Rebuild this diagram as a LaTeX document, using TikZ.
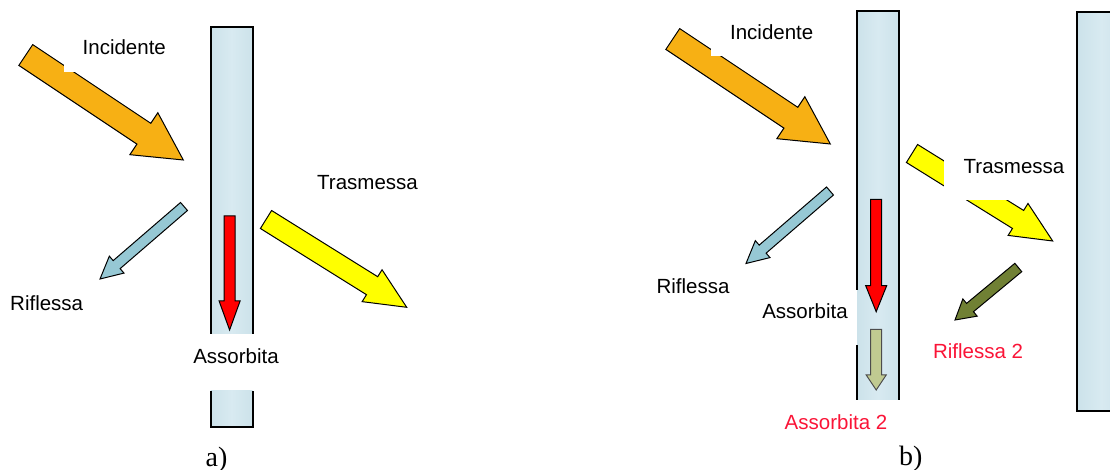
\documentclass[tikz,border=0pt]{standalone}
\usepackage{fontspec}
\setmainfont{Liberation Sans}
\newfontfamily\panelfont{Liberation Serif}
\usetikzlibrary{calc}

\definecolor{slabedge}{RGB}{204,226,234}
\definecolor{slabmid}{RGB}{216,234,241}
\definecolor{incorange}{RGB}{247,176,20}
\definecolor{reflblue}{RGB}{150,200,212}
\definecolor{transyellow}{RGB}{255,255,0}
\definecolor{absred}{RGB}{255,0,0}
\definecolor{olivedark}{RGB}{112,128,52}
\definecolor{olivelight}{RGB}{192,202,145}
\definecolor{labelred}{RGB}{250,20,55}

% block arrow: #1 style, #2 tail, #3 tip, #4 half shaft width, #5 half head width, #6 head length
\newcommand\blockarrow[6]{%
  \coordinate (hb) at ($(#3)!#6!(#2)$);
  \draw[#1] ($(#2)!#4!90:(#3)$) -- ($(hb)!#4!-90:(#2)$) -- ($(hb)!#5!-90:(#2)$)
    -- (#3) -- ($(hb)!#5!90:(#2)$) -- ($(hb)!#4!90:(#2)$) -- ($(#2)!#4!-90:(#3)$) -- cycle;
}

\tikzset{
  lbl/.style={font=\fontsize{10.25pt}{12pt}\selectfont, inner sep=0pt, anchor=base},
  redlbl/.style={lbl, text=labelred},
  panel/.style={font=\panelfont\fontsize{14pt}{16pt}\selectfont, inner sep=0pt, anchor=base},
  slabfill/.style={left color=slabedge, right color=slabedge, middle color=slabmid},
  slabline/.style={line width=1pt, draw=black},
  barrow/.style={draw=black, line width=0.5pt, line join=miter},
  mask/.style={fill=white},
}

\begin{document}
\begin{tikzpicture}[x=0.5pt, y=-0.5pt]
\useasboundingbox (0,0) rectangle (1110,470);
\clip (0,0) rectangle (1110,470);

% ---------------- panel a ----------------
% glass slab, interrupted behind the label
\fill[slabfill] (210.5,27.5) rectangle (252.5,334);
\fill[slabfill] (210.5,391) rectangle (252.5,427);
\draw[slabline] (210.5,334) -- (210.5,27.5) -- (252.5,27.5) -- (252.5,334);
\draw[slabline] (210.5,391) -- (210.5,427) -- (252.5,427) -- (252.5,391);

\coordinate (incA0) at (25.8,55);    \coordinate (incA1) at (183.3,160);
\coordinate (refA0) at (184,206.5);  \coordinate (refA1) at (100,279);
\coordinate (absA0) at (229.6,216);  \coordinate (absA1) at (229.6,330);
\coordinate (traA0) at (266,219.5);  \coordinate (traA1) at (406.7,307.3);

\blockarrow{barrow, fill=incorange}{incA0}{incA1}{6.25pt}{12.6pt}{23.7pt}
\blockarrow{barrow, fill=reflblue}{refA0}{refA1}{2.65pt}{5.6pt}{11pt}
\blockarrow{barrow, fill=absred}{absA0}{absA1}{2.7pt}{5.25pt}{14.5pt}
\blockarrow{barrow, fill=transyellow}{traA0}{traA1}{5.3pt}{9.4pt}{20.4pt}

% text box of the incident label
\fill[mask] (63.5,20) rectangle (185,72);

\node[lbl] (incAlbl) at (124.3,55) {Incidente};
\node[lbl] (refAlbl) at (46.7,310.7) {Riflessa};
\node[lbl] (traAlbl) at (367.5,190) {Trasmessa};
\node[lbl] (absAlbl) at (236,364) {Assorbita};
\node[panel] (panA) at (216.5,466.5) {a)};

% ---------------- panel b ----------------
% first slab
\fill[slabfill] (857,11) rectangle (899,400);
\draw[slabline] (857,290) -- (857,11) -- (899,11) -- (899,400);
\draw[slabline] (857,345.5) -- (857,400);
% second slab, running off the right edge
\fill[slabfill] (1077,12) rectangle (1125,411);
\draw[slabline] (1125,12) -- (1077,12) -- (1077,411) -- (1125,411);

\coordinate (incB0) at (672.8,39);    \coordinate (incB1) at (830.3,144);
\coordinate (refB0) at (830,191);     \coordinate (refB1) at (746,263.5);
\coordinate (absB0) at (876.2,199.3); \coordinate (absB1) at (876.2,311.7);
\coordinate (abs2B0) at (876.2,329.3);\coordinate (abs2B1) at (876.2,390);
\coordinate (traB0) at (912,153.5);   \coordinate (traB1) at (1052.7,241);
\coordinate (ref2B0) at (1018.3,267.5);\coordinate (ref2B1) at (955,320);

\blockarrow{barrow, fill=incorange}{incB0}{incB1}{6.25pt}{12.6pt}{23.7pt}
\blockarrow{barrow, fill=reflblue}{refB0}{refB1}{2.65pt}{5.6pt}{11pt}
\blockarrow{barrow, fill=absred}{absB0}{absB1}{2.75pt}{5.25pt}{13pt}
\blockarrow{barrow, draw=black!70, fill=olivelight}{abs2B0}{abs2B1}{2.75pt}{5pt}{7.5pt}
\blockarrow{barrow, fill=transyellow}{traB0}{traB1}{5.3pt}{9.4pt}{20.4pt}
\blockarrow{barrow, fill=olivedark}{ref2B0}{ref2B1}{2.7pt}{5.6pt}{9.75pt}

% text boxes of the labels
\fill[mask] (710.5,4) rectangle (832,56);
\fill[mask] (943.5,130) rectangle (1070,200);

\node[lbl] (incBlbl) at (771.7,39.3) {Incidente};
\node[lbl] (refBlbl) at (693,294) {Riflessa};
\node[lbl] (absBlbl) at (805,319) {Assorbita};
\node[lbl] (traBlbl) at (1014,173.3) {Trasmessa};
\node[redlbl] (ref2Blbl) at (978,358.3) {Riflessa 2};
\node[redlbl] (abs2Blbl) at (836,430) {Assorbita 2};
\node[panel] (panB) at (910.8,466) {b)};
\end{tikzpicture}
\end{document}
